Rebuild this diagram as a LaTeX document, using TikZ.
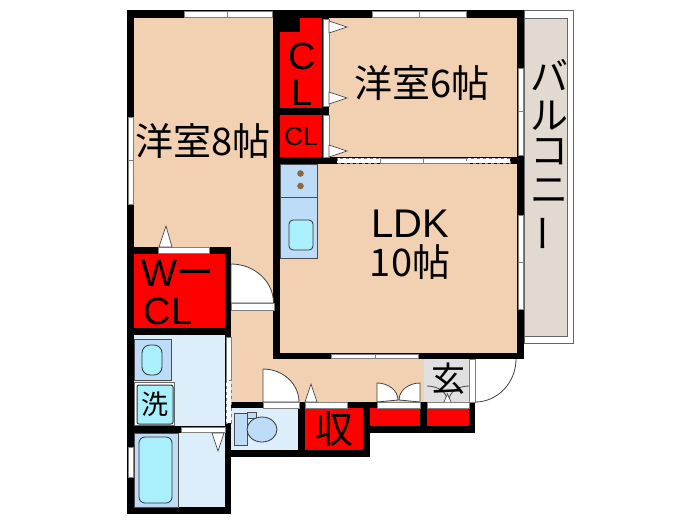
\documentclass[tikz,border=0pt]{standalone}
\usepackage{fontspec}
\setmainfont{Liberation Sans}
\newfontfamily\jpfont{Noto Sans CJK JP}
\tikzset{
 wallfill/.style={fill=black,draw=none},
 roomtxt/.style={font=\jpfont\fontsize{38}{38}\selectfont,inner sep=0pt},
 bigtxt/.style={font=\fontsize{38}{38}\selectfont,inner sep=0pt},
 glass/.style={fill=white,draw=black!50,line width=1pt},
 doorleaf/.style={fill=white,draw=black!75,line width=0.8pt},
 wedge/.style={fill=white,draw=black!70,line width=0.7pt},
 unitbox/.style={fill=unit,draw=black!70,line width=0.8pt},
 basinbox/.style={fill=basin,draw=black!80,line width=0.8pt}
}
\definecolor{peach}{HTML}{F2D1B3}
\definecolor{closet}{HTML}{FE0000}
\definecolor{wetroom}{HTML}{DDEEFB}
\definecolor{unit}{HTML}{BDDCF8}
\definecolor{basin}{HTML}{A9F0FC}
\definecolor{balcony}{HTML}{E2D9D1}
\begin{document}
\begin{tikzpicture}[x=1pt,y=-1pt]
\useasboundingbox (0,0) rectangle (700,525);
\fill[white] (0,0) rectangle (700,525);
% balcony
\draw[black!60,fill=white,line width=0.8pt] (524,10) rectangle (573,343);
\draw[black!60,fill=balcony,line width=0.8pt] (524,18) rectangle (567,336);
% floors
\fill[peach] (134,18) rectangle (273,247);
\fill[peach] (231,247) rectangle (273,402);
\fill[peach] (273,352) rectangle (424,402);
\fill[peach] (329,18) rectangle (517,157);
\fill[peach] (280,164) rectangle (517,353);
\fill[closet] (134,254) rectangle (225,328);
\fill[closet] (280,18) rectangle (322,108);
\fill[closet] (280,115) rectangle (322,157);
\fill[closet] (305,408) rectangle (363,450);
\fill[closet] (370,408) rectangle (420,426);
\fill[closet] (427,408) rectangle (469,426);
\fill[wetroom] (134,335) rectangle (225,426);
\fill[wetroom] (134,433) rectangle (225,507);
\fill[wetroom] (231,408) rectangle (299,450);
\fill[black!12] (424,359) rectangle (469,402);
% walls
\fill[wallfill] (127,10) rectangle (524,18);
\fill[wallfill] (127,10) rectangle (134,514);
\fill[wallfill] (127,507) rectangle (231,514);
\fill[wallfill] (273,10) rectangle (280,359);
\fill[wallfill] (517,10) rectangle (524,359);
\fill[wallfill] (273,353) rectangle (524,359);
\fill[wallfill] (273,157) rectangle (517,164);
\fill[wallfill] (280,18) rectangle (300,32);
\fill[wallfill] (280,108) rectangle (329,115);
\fill[wallfill] (322,18) rectangle (329,164);
\fill[wallfill] (127,247) rectangle (231,254);
\fill[wallfill] (127,328) rectangle (231,335);
\fill[wallfill] (225,247) rectangle (231,514);
\fill[wallfill] (127,426) rectangle (231,433);
\fill[wallfill] (231,402) rectangle (475,408);
\fill[wallfill] (231,450) rectangle (370,457);
\fill[wallfill] (298,402) rectangle (305,457);
\fill[wallfill] (363,402) rectangle (370,457);
\fill[wallfill] (363,426) rectangle (475,433);
\fill[wallfill] (420,402) rectangle (427,433);
\fill[wallfill] (469,402) rectangle (475,433);
% windows
\foreach \xa/\xb/\xc in {184/227/272,372/419/466} {
 \draw[glass] (\xa,11) rectangle (\xb,17);
 \draw[glass] (\xb,11) rectangle (\xc,17);
}
\draw[glass] (128,117) rectangle (133,160);
\draw[glass] (128,160) rectangle (133,204);
\draw[glass] (518,68) rectangle (523,111);
\draw[glass] (518,111) rectangle (523,155);
\draw[glass] (518,215) rectangle (523,262);
\draw[glass] (518,262) rectangle (523,309);
\draw[glass] (128,447) rectangle (133,477);
\draw[glass] (226,337) rectangle (231,380);
\draw[glass,dashed] (226,380) rectangle (231,423);
\draw[glass] (331,354) rectangle (375,358);
\draw[glass] (375,354) rectangle (418,358);
% sliding doors between rooms
\draw[glass] (323,19) rectangle (329,106);
\draw[glass] (323,115) rectangle (329,157);
\draw[glass,dashed] (337,158) rectangle (380,163);
\draw[glass] (380,158) rectangle (423,163);
\draw[glass] (423,158) rectangle (466,163);
\draw[glass,dashed] (466,158) rectangle (510,163);
\draw[glass] (469,359) rectangle (475,402);
% door bars
\draw[glass] (158,247) rectangle (209,253);
\draw[glass] (181,427) rectangle (225,432);
\draw[glass] (305,402) rectangle (347,408);
\draw[glass] (377,402) rectangle (420,408);
\draw[glass] (427,402) rectangle (469,408);
% door leaves
\draw[doorleaf] (231,264) arc (-90:0:42.5 and 39) -- (231,303) -- cycle;
\draw[glass] (231,303) rectangle (274,310);
\draw[doorleaf] (263,402) -- (263,369) arc (-90:0:36 and 33) -- cycle;
\draw[glass] (263,402) rectangle (299,408);
\draw[doorleaf] (377,402) -- (377,383) arc (-90:0:21 and 17) -- cycle;
\draw[doorleaf] (420,402) -- (420,383) arc (-90:-180:21 and 17) -- cycle;
\draw[black!75,line width=0.8pt] (427,386) arc (-90:0:20 and 14);
\draw[black!75,line width=0.8pt] (469,386) arc (-90:-180:20 and 14);
\draw[wedge] (444,402) -- (447.5,394) -- (451,402);
\draw[black!75,line width=0.8pt] (516,359) arc (0:90:41 and 43);
% wedges
\foreach \yy in {27,98,151}
 \draw[wedge] (329,\yy-6) -- (347,\yy) -- (329,\yy+6) -- cycle;
\draw[wedge] (159,247) -- (166,226) -- (172,247) -- cycle;
\draw[wedge] (212,433) -- (218,451) -- (224,433) -- cycle;
\draw[wedge] (305,402) -- (311,384) -- (317,402) -- cycle;
% kitchen
\draw[unitbox] (280,164) rectangle (317,258);
\draw[black!70,line width=0.8pt] (280,197) -- (317,197);
\filldraw[fill=brown!80!black,draw=black!60] (300.5,173.5) circle (3pt);
\filldraw[fill=brown!80!black,draw=black!60] (300.5,186) circle (3pt);
\draw[basinbox,rounded corners=4pt] (289,220) rectangle (313,250);
% wash room
\draw[unitbox] (134,339) rectangle (171,380);
\draw[basinbox,rounded corners=8pt] (142,345) rectangle (162,375);
\draw[fill=white,draw=black!60,line width=0.8pt] (134,382) rectangle (174,425);
\draw[basinbox,line width=1pt,rounded corners=2pt] (137,385) rectangle (173,424);
% bath
\draw[unitbox] (134,433) rectangle (178,507);
\draw[basinbox,rounded corners=6pt] (139,437) rectangle (172,503);
% toilet
\draw[unitbox] (234,413) rectangle (247,445);
\draw[unitbox] (247,412) rectangle (256,418);
\draw[unitbox,draw=black!80] (262,429.5) ellipse (15 and 12.5);
% labels
\node[roomtxt] (room8) at (203,141) {洋室8帖};
\node[roomtxt] (room6) at (422,83) {洋室6帖};
\node[bigtxt,font=\fontsize{40}{40}\selectfont] (ldk) at (410,224) {LDK};
\node[roomtxt] (ldkten) at (410,262) {10帖};
\node[bigtxt] (clc) at (302,56) {C};
\node[bigtxt] (cll) at (302,92) {L};
\node[font=\fontsize{26}{26}\selectfont,inner sep=0pt] (clsmall) at (301,137) {CL};
\node[bigtxt] (wcla) at (178,273) {W{\jpfont ー}};
\node[bigtxt] (wclb) at (168,311) {CL};
\node[roomtxt] (shu) at (334,429) {収};
\node[roomtxt,font=\jpfont\fontsize{27}{27}\selectfont] (sen) at (155,404) {洗};
\node[roomtxt,font=\jpfont\fontsize{34}{34}\selectfont] (gen) at (448,379) {玄};
\node[roomtxt] (ba) at (549,75) {バ};
\node[roomtxt] (ru) at (549,116) {ル};
\node[roomtxt] (ko) at (549,152) {コ};
\node[roomtxt] (ni) at (549,191) {ニ};
\node[roomtxt,rotate=90] (bar) at (549,233) {ー};
\end{tikzpicture}
\end{document}
